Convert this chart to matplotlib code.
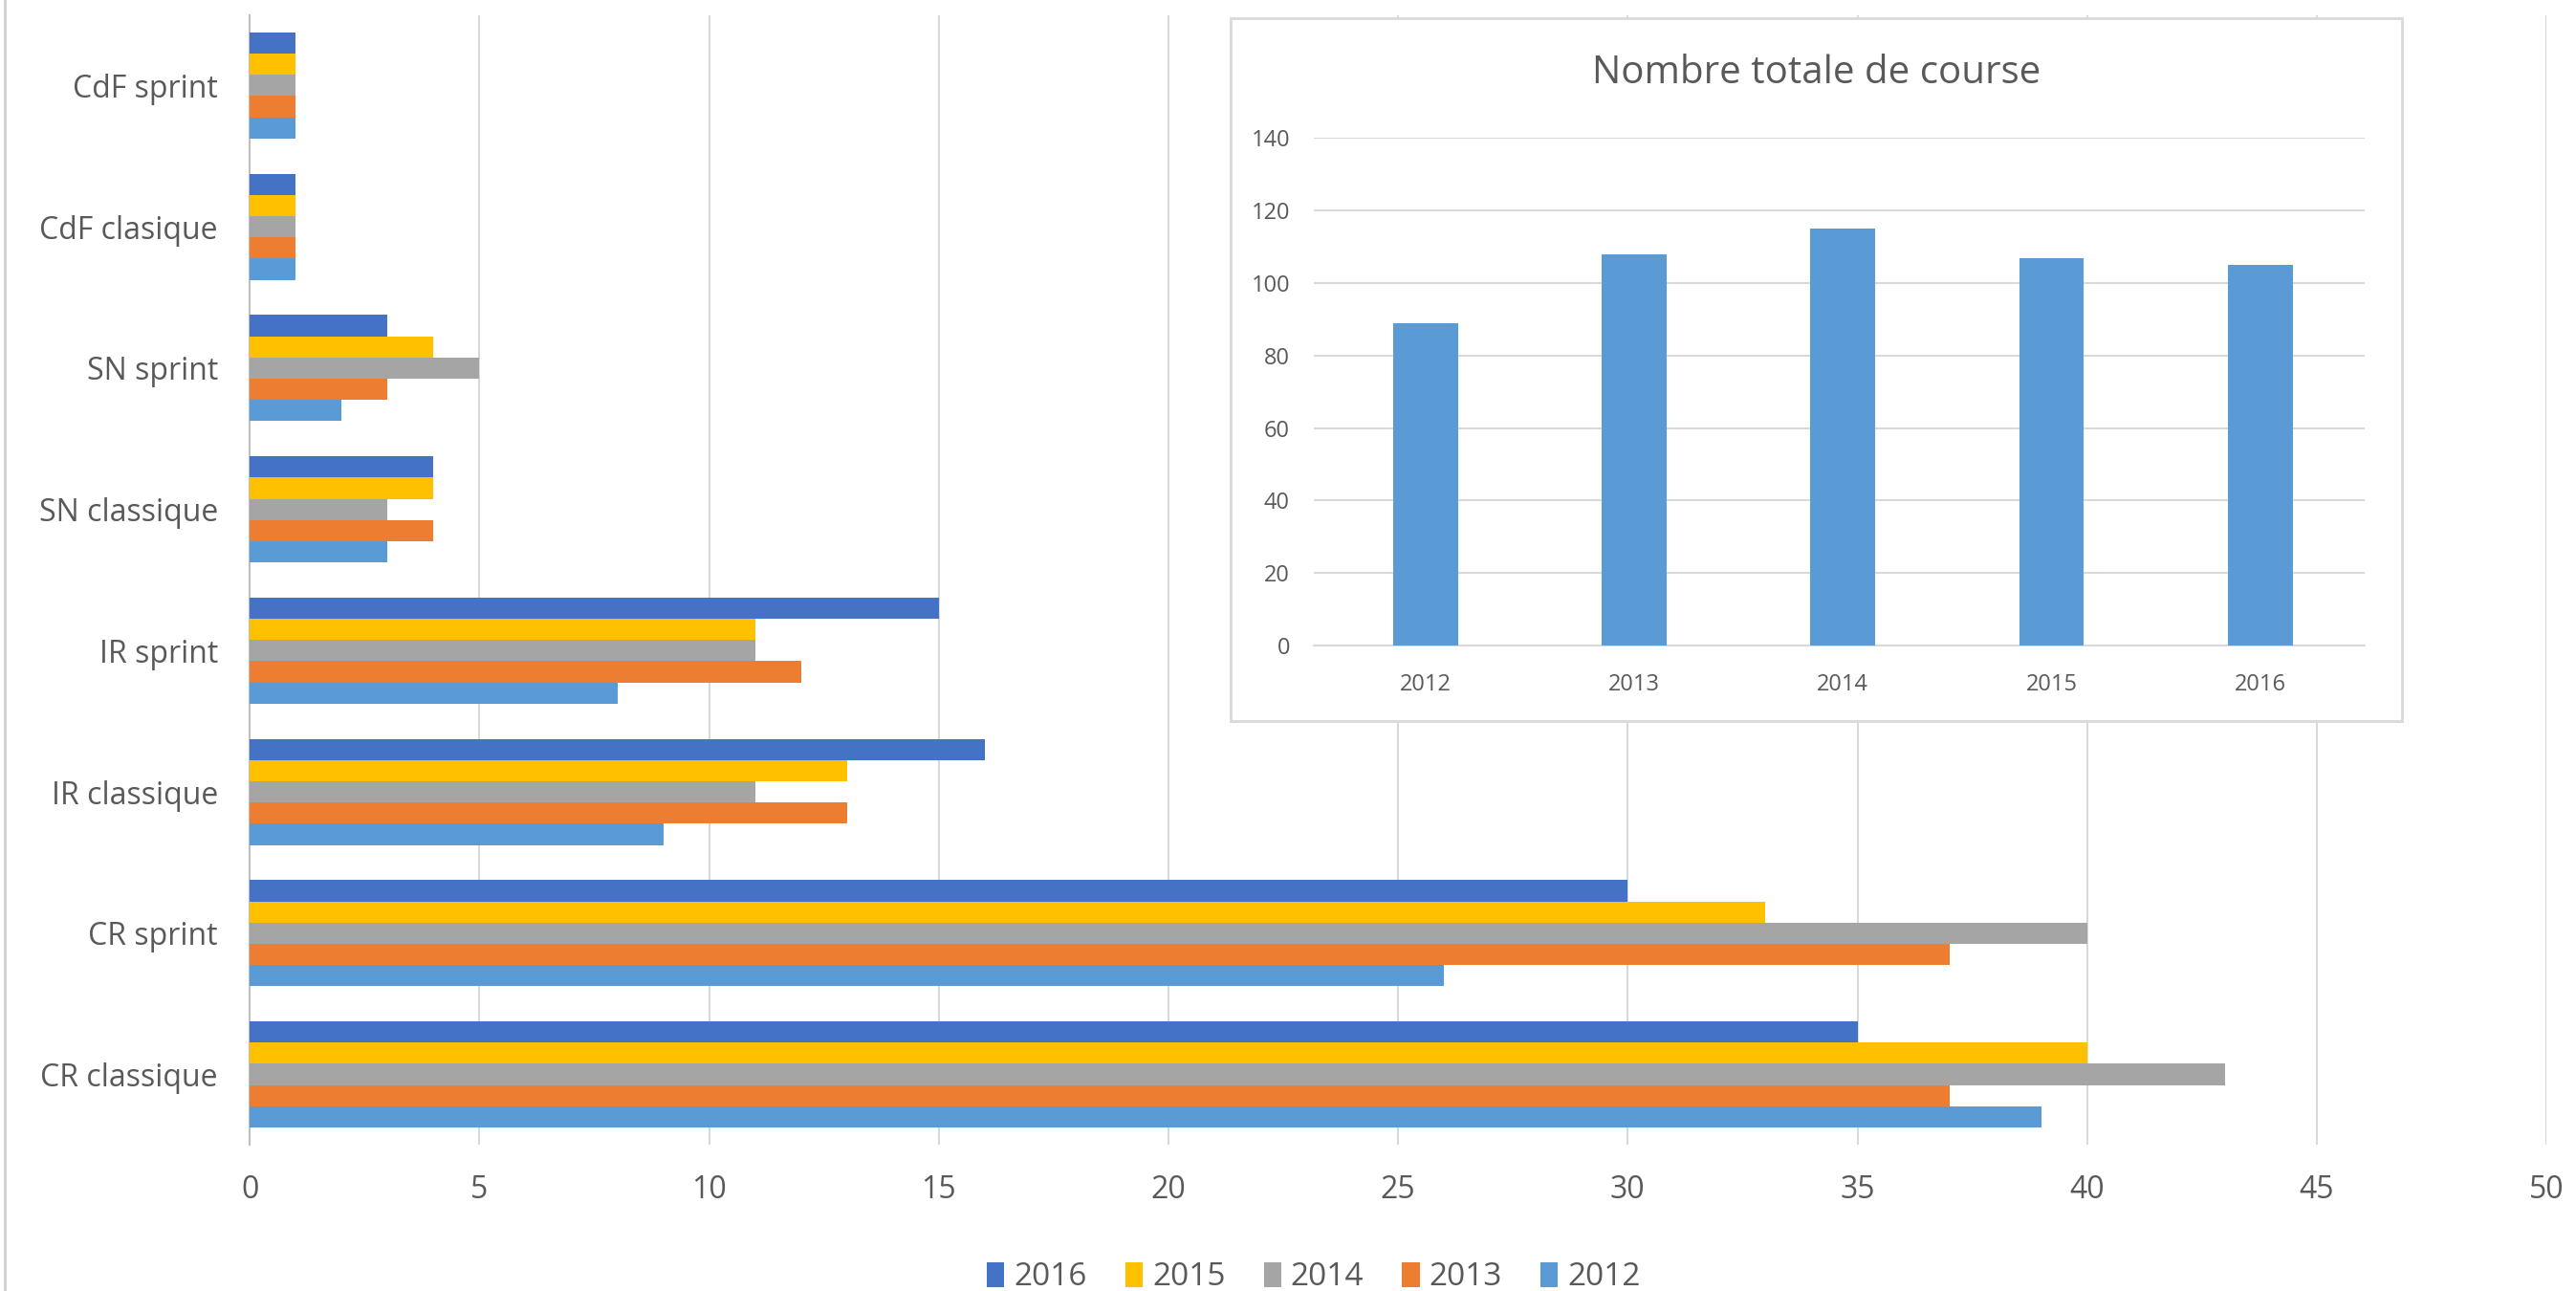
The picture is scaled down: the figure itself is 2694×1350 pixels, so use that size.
import matplotlib.pyplot as plt
from matplotlib.patches import Rectangle
import numpy as np

plt.rcParams['font.family'] = ['Open Sans', 'DejaVu Sans']

# data
categories = ['CR classique', 'CR sprint', 'IR classique', 'IR sprint',
              'SN classique', 'SN sprint', 'CdF clasique', 'CdF sprint']
years = ['2012', '2013', '2014', '2015', '2016']
v2012 = [39, 26, 9, 8, 3, 2, 1, 1]
v2013 = [37, 37, 13, 12, 4, 3, 1, 1]
v2014 = [43, 40, 11, 11, 3, 5, 1, 1]
v2015 = [40, 33, 13, 11, 4, 4, 1, 1]
v2016 = [35, 30, 16, 15, 4, 3, 1, 1]
totals = [89, 108, 115, 107, 105]

colors = {'2012': '#5B9BD5', '2013': '#ED7D31', '2014': '#A5A5A5',
          '2015': '#FFC000', '2016': '#4472C4'}
text_col = '#595959'
grid_col = '#D9D9D9'

fig = plt.figure(figsize=(26.94, 13.5), dpi=100)

# main horizontal bar chart
ax = fig.add_axes([0.097, 0.113, 0.8915, 0.8755])
series = [v2012, v2013, v2014, v2015, v2016]
y = np.arange(len(categories))
h = 0.15
for k, (yr, vals) in enumerate(zip(years, series)):
    ax.barh(y + (k - 2) * h, vals, height=h, color=colors[yr], label=yr, zorder=3)

ax.set_xlim(0, 50)
ax.set_ylim(-0.5, len(categories) - 0.5)
ax.set_xticks(range(0, 51, 5))
ax.set_yticks(y)
ax.set_yticklabels(categories)
ax.tick_params(length=0, labelsize=23, labelcolor=text_col, pad=24)
ax.tick_params(axis='x', pad=22)
ax.grid(axis='x', color=grid_col, lw=1.5, zorder=0)
for s in ['top', 'right', 'bottom']:
    ax.spines[s].set_visible(False)
ax.spines['left'].set_color('#BFBFBF')
ax.spines['left'].set_linewidth(1.5)

handles, labels = ax.get_legend_handles_labels()
fig.legend(handles[::-1], labels[::-1], loc='lower center', ncol=5,
           bbox_to_anchor=(0.51, -0.024), frameon=False, fontsize=24,
           labelcolor=text_col, handlelength=0.55, handleheight=0.8,
           handletextpad=0.3, columnspacing=1.2)

# left border line
fig.add_artist(plt.Line2D([0.002, 0.002], [0, 1], color='#D0D0D0', lw=2))

# inset box
fig.add_artist(Rectangle((0.4777, 0.4415), 0.4547, 0.5445, transform=fig.transFigure,
                         facecolor='white', edgecolor=grid_col, lw=2, zorder=5))

ax2 = fig.add_axes([0.510, 0.5, 0.408, 0.393], zorder=6)
ax2.patch.set_alpha(0)
xi = np.arange(len(years))
ax2.bar(xi, totals, width=0.31, color='#5B9BD5', zorder=3)
ax2.set_xlim(-0.535, 4.5)
ax2.set_ylim(0, 140)
ax2.set_yticks(range(0, 141, 20))
ax2.set_xticks(xi)
ax2.set_xticklabels(years)
ax2.tick_params(length=0, labelsize=17, labelcolor=text_col)
ax2.tick_params(axis='y', pad=18)
ax2.tick_params(axis='x', pad=21)
ax2.grid(axis='y', color=grid_col, lw=1.5, zorder=0)
for s in ['top', 'right', 'left']:
    ax2.spines[s].set_visible(False)
ax2.spines['bottom'].set_color(grid_col)
ax2.spines['bottom'].set_linewidth(1.5)
fig.text(0.705, 0.943, 'Nombre totale de course', ha='center', va='center',
         fontsize=29, color=text_col, zorder=7)

fig.savefig('out.png', dpi=100)
